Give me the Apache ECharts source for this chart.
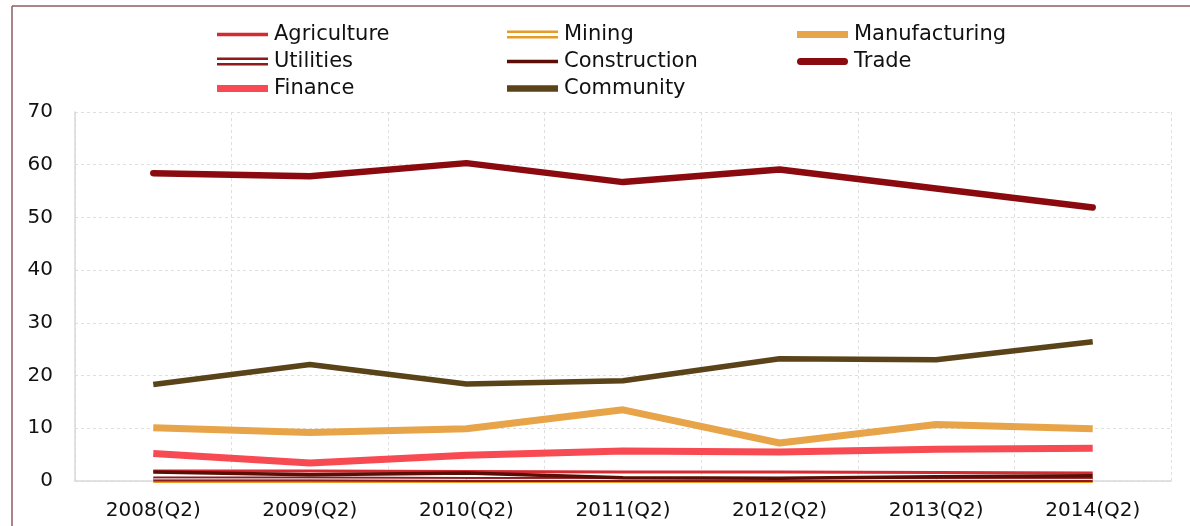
<!DOCTYPE html>
<html>
<head>
<meta charset="utf-8">
<script src="https://cdn.jsdelivr.net/npm/echarts@6/dist/echarts.min.js"></script>
<style>
  html, body { margin: 0; padding: 0; background: #fff; }
  #chart { width: 1190px; height: 526px; }
</style>
</head>
<body>
<div id="chart"></div>
<script>
// employment by industry, Q2 of each year
const categories = ["2008(Q2)", "2009(Q2)", "2010(Q2)", "2011(Q2)", "2012(Q2)", "2013(Q2)", "2014(Q2)"];
const agriculture = [1.9, 1.9, 1.8, 1.7, 1.7, 1.6, 1.5];
const mining = [0.1, 0.1, 0.1, 0.1, 0.1, 0.1, 0.1];
const manufacturing = [10.1, 9.2, 9.9, 13.5, 7.2, 10.7, 9.9];
const utilities = [0.4, 0.4, 0.3, 0.3, 0.3, 0.3, 0.3];
const construction = [1.7, 1.2, 1.5, 0.6, 0.5, 0.8, 1.0];
const trade = [58.4, 57.8, 60.3, 56.7, 59.1, 55.5, 51.9];
const finance = [5.2, 3.4, 4.9, 5.7, 5.5, 6.0, 6.2];
const community = [18.3, 22.1, 18.4, 19.0, 23.2, 23.0, 26.4];
const yTicks = { min: 0, max: 70, interval: 10 };

const FONT = "DejaVu Sans";
const chart = echarts.init(document.getElementById("chart"), null, { renderer: "canvas" });

// legend icons: bars of different thickness inside a 51x8 box
const bar = (h) => "path://M0,0H51V" + h + "H0Z";
const doubleIcon = "path://M0,0H51V2.6H0Z M0,5.4H51V8H0Z";
const roundIcon = "path://M3.5,0H47.5A3.5,3.5 0 0 1 47.5,7H3.5A3.5,3.5 0 0 1 3.5,0Z";

function line(name, data, color, width, extra) {
  return Object.assign({
    name: name,
    type: "line",
    data: data,
    symbol: "none",
    showSymbol: false,
    lineStyle: { color: color, width: width },
    itemStyle: { color: color },
    emphasis: { disabled: true },
    silent: true
  }, extra || {});
}
// thin white stroke drawn over a series to fake the "double" line style
function inner(name, data) {
  return line(name + "_inner", data, "#ffffff", 1, { z: 3 });
}

const legendBase = {
  orient: "vertical",
  itemWidth: 51,
  itemHeight: 8,
  itemGap: 6,
  symbolKeepAspect: true,
  textStyle: { fontFamily: FONT, fontSize: 21, color: "#111", lineHeight: 20, padding: [0, 0, 0, 1] },
  selectedMode: false,
  padding: 0
};

chart.setOption({
  animation: false,
  backgroundColor: "#fff",
  legend: [
    Object.assign({}, legendBase, { left: 217, top: 24, data: [
      { name: "Agriculture", icon: bar(3.5) },
      { name: "Utilities", icon: doubleIcon },
      { name: "Finance", icon: bar(7) }] }),
    Object.assign({}, legendBase, { left: 507, top: 24, data: [
      { name: "Mining", icon: doubleIcon },
      { name: "Construction", icon: bar(3.5) },
      { name: "Community", icon: bar(6.5) }] }),
    Object.assign({}, legendBase, { left: 797, top: 24, data: [
      { name: "Manufacturing", icon: bar(7) },
      { name: "Trade", icon: roundIcon }] })
  ],
  grid: { left: 75, right: 19, top: 112, bottom: 45 },
  xAxis: {
    type: "category",
    data: categories,
    boundaryGap: true,
    axisLine: { lineStyle: { color: "#d9d9d9", width: 1.5 } },
    axisTick: { show: false },
    axisLabel: { fontFamily: FONT, fontSize: 20, color: "#111", margin: 20 },
    splitLine: { show: true, lineStyle: { color: "#dedede", type: [3, 3] } }
  },
  yAxis: {
    type: "value",
    min: yTicks.min,
    max: yTicks.max,
    interval: yTicks.interval,
    axisLine: { show: true, lineStyle: { color: "#d9d9d9", width: 1.5 } },
    axisTick: { show: false },
    axisLabel: { fontFamily: FONT, fontSize: 20, color: "#111", margin: 22 },
    splitLine: { show: true, lineStyle: { color: "#dedede", type: [3, 3] } }
  },
  graphic: [
    { type: "line", shape: { x1: 12, y1: 6, x2: 12, y2: 526 }, style: { stroke: "#8c5c5c", lineWidth: 1.5 } },
    { type: "line", shape: { x1: 12, y1: 6, x2: 1190, y2: 6 }, style: { stroke: "#8c5c5c", lineWidth: 1.5 } }
  ],
  series: [
    line("Agriculture", agriculture, "#D42A30", 3),
    line("Mining", mining, "#E39B2A", 5),
    inner("Mining", mining),
    line("Manufacturing", manufacturing, "#E8A448", 7),
    line("Utilities", utilities, "#8E1A1C", 5),
    inner("Utilities", utilities),
    line("Construction", construction, "#5A0E06", 3.5),
    line("Trade", trade, "#8A0A0F", 6.5, { lineStyle: { color: "#8A0A0F", width: 6.5, cap: "round", join: "round" } }),
    line("Finance", finance, "#F84A52", 7),
    line("Community", community, "#5A4219", 5.5)
  ]
});
</script>
</body>
</html>
